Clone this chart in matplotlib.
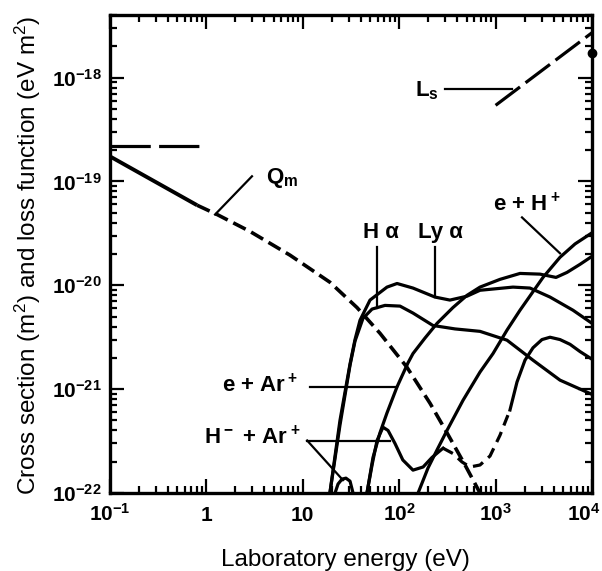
import matplotlib
matplotlib.use('Agg')
import matplotlib.pyplot as plt
from matplotlib.ticker import LogLocator, NullFormatter
from matplotlib.transforms import ScaledTranslation

plt.rcParams['font.family'] = ['Liberation Sans', 'DejaVu Sans']
plt.rcParams['font.weight'] = 'bold'
plt.rcParams['mathtext.default'] = 'regular'
plt.rcParams['lines.scale_dashes'] = False

# momentum transfer cross section Q_m (solid start, dashed after)
qm_solid_e = [0.1, 0.8]
qm_solid_s = [1.74e-19, 5.9e-20]
qm_dash_e = [0.8, 1.29, 2.83, 7.36, 19.1, 36.5, 63.2, 120, 209, 313, 482, 689]
qm_dash_s = [5.9e-20, 4.8e-20, 3.3e-20, 1.95e-20, 1.07e-20, 6.1e-21, 3.45e-21,
             1.63e-21, 7.3e-22, 3.8e-22, 1.86e-22, 1.0e-22]

# flat dashed level at low energy
flat_e = [0.1, 1.0]
flat_s = [2.2e-19, 2.2e-19]

# loss function L_s
ls_e = [1000, 10000]
ls_s = [5.4e-19, 2.7e-18]
ls_dot_e = [10000]
ls_dot_s = [1.74e-18]

# H alpha
ha_e = [19.1, 24.3, 30.9, 34.8, 42.1, 52.3, 71.2, 102, 139, 224, 379, 689,
        1313, 2442, 4659, 10000]
ha_s = [1e-22, 4.5e-22, 1.7e-21, 2.9e-21, 4.8e-21, 5.9e-21, 6.4e-21, 6.3e-21,
        5.4e-21, 4.1e-21, 3.8e-21, 3.6e-21, 2.96e-21, 1.9e-21, 1.22e-21, 8.9e-22]

# Ly alpha
lya_e = [19.1, 24.3, 30.9, 34.8, 39.2, 49.8, 74.7, 95, 139, 235, 336, 505,
         689, 1514, 2274, 3667, 6352, 10000]
lya_s = [1e-22, 5.0e-22, 1.75e-21, 3.0e-21, 4.6e-21, 7.2e-21, 9.6e-21, 1.04e-20,
         9.4e-21, 7.7e-21, 7.2e-21, 7.85e-21, 8.95e-21, 9.6e-21, 9.4e-21,
         7.7e-21, 5.75e-21, 4.3e-21]

# e + Ar+
ear_e = [46.3, 53.5, 63.2, 74.7, 94.9, 123, 139, 185, 247, 361, 505, 689,
         1111, 1791, 2888, 4233, 5505, 7509, 10000]
ear_s = [1e-22, 2.2e-22, 3.8e-22, 5.9e-22, 1.05e-21, 1.78e-21, 2.2e-21, 3.1e-21,
         4.3e-21, 6.1e-21, 8.0e-21, 9.6e-21, 1.14e-20, 1.3e-20, 1.28e-20,
         1.19e-20, 1.33e-20, 1.59e-20, 1.9e-20]

# e + H+
eh_e = [157, 199, 247, 313, 459, 689, 940, 1313, 1791, 3103, 4659, 6670, 10000]
eh_s = [1e-22, 1.74e-22, 2.6e-22, 4.0e-22, 7.8e-22, 1.46e-21, 2.2e-21, 3.7e-21,
        5.75e-21, 1.19e-20, 1.86e-20, 2.5e-20, 3.2e-20]

# H- + Ar+ : bump, dashed gap, high energy hump
hb_e = [46.3, 52.3, 58.9, 67.9, 76.6, 90.4, 109, 139, 177, 219, 285]
hb_s = [1e-22, 1.86e-22, 3.2e-22, 4.3e-22, 4.0e-22, 3.0e-22, 2.08e-22,
        1.66e-22, 1.78e-22, 2.2e-22, 2.7e-22]
hd_e = [285, 361, 448, 542, 689, 875, 1111, 1410]
hd_s = [2.7e-22, 2.4e-22, 1.99e-22, 1.78e-22, 1.86e-22, 2.27e-22, 3.6e-22, 6.3e-22]
hc_e = [1410, 1667, 2018, 2442, 3027, 3667, 4659, 5920, 7509, 10000]
hc_s = [6.3e-22, 1.17e-21, 1.9e-21, 2.5e-21, 3.0e-21, 3.16e-21, 3.0e-21,
        2.7e-21, 2.3e-21, 1.94e-21]

# H- + Ar+ : small arch near 25 eV
arch_e = [21.6, 23.2, 25.5, 28.0, 30.9, 33.2]
arch_s = [1e-22, 1.22e-22, 1.36e-22, 1.39e-22, 1.3e-22, 1e-22]

# labels: text, x, y
labels = [
    ('$Q_m$', 6.1, 1.07e-19),
    ('$L_s$', 194, 7.5e-19),
    ('H α', 64.7, 3.2e-20),
    ('Ly α', 265, 3.2e-20),
    ('e + H$^+$', 2117, 6.0e-20),
    ('e + Ar$^+$', 3.6, 1.09e-21),
    ('H$^-$ + Ar$^+$', 2.97, 3.45e-22),
]
# leader lines: x0, y0, x1, y1
leaders = [
    (2.97, 1.12e-19, 1.23, 4.8e-20),
    (298, 7.67e-19, 1480, 7.67e-19),
    (58.9, 2.32e-20, 58.9, 6.0e-21),
    (235, 2.32e-20, 235, 7.7e-21),
    (1879, 4.5e-20, 4659, 2.03e-20),
    (11.9, 1.05e-21, 94.9, 1.05e-21),
    (11.1, 3.2e-22, 80.3, 3.2e-22),
    (11.1, 3.2e-22, 26.1, 1.33e-22),
]

fig = plt.figure(figsize=(6.02, 5.71), dpi=100)
ax = fig.add_axes([110 / 602, 78 / 571, 482 / 602, 478 / 571])

lw = 2.3
ax.plot(qm_solid_e, qm_solid_s, color='black', lw=lw + 0.5, solid_capstyle='butt')
ax.plot(qm_dash_e, qm_dash_s, color='black', lw=lw + 0.3, dashes=(10, 4.5))
ax.plot(flat_e, flat_s, color='black', lw=lw, dashes=(29, 6), dash_capstyle='butt')
ax.plot(ls_e, ls_s, color='black', lw=lw, dashes=(22, 5))
ax.plot(ls_dot_e, ls_dot_s, 'o', color='black', ms=6, clip_on=False, zorder=5)

for e, s in [(ha_e, ha_s), (lya_e, lya_s), (ear_e, ear_s), (eh_e, eh_s),
             (hb_e, hb_s), (hc_e, hc_s), (arch_e, arch_s)]:
    ax.plot(e, s, color='black', lw=lw, solid_joinstyle='round')
ax.plot(hd_e, hd_s, color='black', lw=lw, dashes=(8, 5))

for x0, y0, x1, y1 in leaders:
    ax.plot([x0, x1], [y0, y1], color='black', lw=1.6)

for txt, x, y in labels:
    ax.text(x, y, txt, fontsize=16, ha='center', va='center')

ax.set_xscale('log')
ax.set_yscale('log')
ax.set_xlim(0.1, 1e4)
ax.set_ylim(1e-22, 4e-18)

ax.set_xticks([0.1, 1, 10, 100, 1000, 10000],
              ['$10^{-1}$', '1', '10', '$10^{2}$', '$10^{3}$', '$10^{4}$'])
ax.set_yticks([1e-22, 1e-21, 1e-20, 1e-19, 1e-18],
              ['$10^{-22}$', '$10^{-21}$', '$10^{-20}$', '$10^{-19}$', '$10^{-18}$'])
ax.xaxis.set_minor_locator(LogLocator(base=10, subs=range(2, 10), numticks=50))
ax.yaxis.set_minor_locator(LogLocator(base=10, subs=range(2, 10), numticks=50))
ax.xaxis.set_minor_formatter(NullFormatter())
ax.yaxis.set_minor_formatter(NullFormatter())

ax.tick_params(which='both', direction='in', top=True, right=True, width=1.6,
               labelsize=15)
ax.tick_params(which='major', length=10)
ax.tick_params(which='minor', length=5)
ax.tick_params(axis='x', which='major', pad=20)
ax.tick_params(axis='y', which='major', pad=6)
xlabs = ax.get_xticklabels()
for lab in xlabs:
    lab.set_va('baseline')
# keep the last label inside the canvas
xlabs[-1].set_ha('right')
xlabs[-1].set_transform(xlabs[-1].get_transform()
                        + ScaledTranslation(9 / 100, 0, fig.dpi_scale_trans))
for spine in ax.spines.values():
    spine.set_linewidth(2.4)

ax.set_xlabel('Laboratory energy (eV)', fontsize=17.5)
ax.xaxis.set_label_coords(0.488, -0.117)
ax.set_ylabel('Cross section (m$^2$) and loss function (eV m$^2$)', fontsize=17.5)
ax.yaxis.set_label_coords(-0.14, 0.497)

fig.savefig('out.png', dpi=100)
